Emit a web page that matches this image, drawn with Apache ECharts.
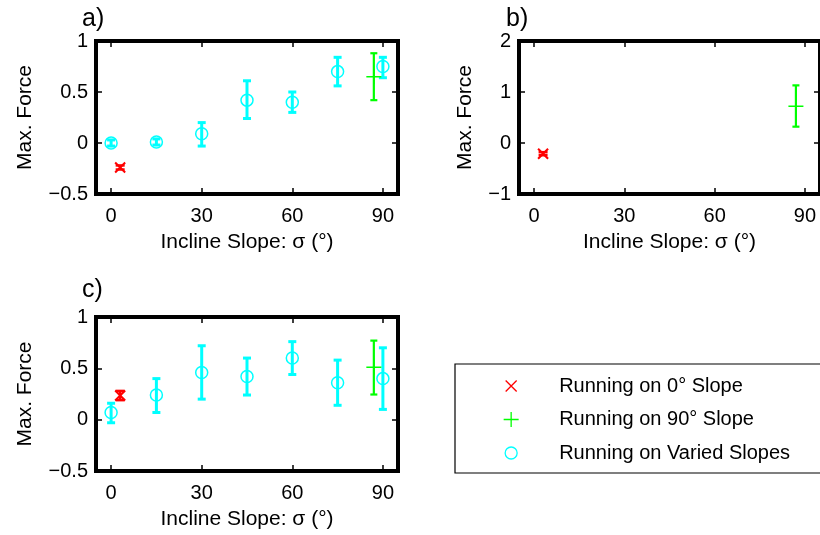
<!DOCTYPE html>
<html>
<head>
<meta charset="utf-8">
<script src="https://cdn.jsdelivr.net/npm/echarts@6/dist/echarts.min.js"></script>
<style>
html,body{margin:0;padding:0;background:#fff;}
#chart{width:820px;height:535px;}
</style>
</head>
<body>
<div id="chart"></div>
<script>
// ---- data ----
const slopes = [0, 15, 30, 45, 60, 75, 90];
const xTicks = [0, 30, 60, 90];
const zeroSlopeX = 3;    // plotted position of 0° slope marker
const ninetySlopeX = 87; // plotted position of 90° slope marker

// panel a
const aVaried = [0.00, 0.01, 0.09, 0.42, 0.40, 0.70, 0.75];
const aVariedLow = [-0.03, -0.02, -0.03, 0.24, 0.30, 0.56, 0.64];
const aVariedHigh = [0.03, 0.04, 0.20, 0.61, 0.50, 0.84, 0.84];
const aZero = [-0.24], aZeroLow = [-0.26], aZeroHigh = [-0.22];
const aNinety = [0.65], aNinetyLow = [0.42], aNinetyHigh = [0.88];

// panel b
const bZero = [-0.21], bZeroLow = [-0.24], bZeroHigh = [-0.18];
const bNinety = [0.72], bNinetyLow = [0.32], bNinetyHigh = [1.13];

// panel c
const cVaried = [0.07, 0.24, 0.46, 0.42, 0.60, 0.36, 0.40];
const cVariedLow = [-0.03, 0.07, 0.20, 0.24, 0.44, 0.14, 0.10];
const cVariedHigh = [0.16, 0.40, 0.72, 0.60, 0.76, 0.58, 0.70];
const cZero = [0.235], cZeroLow = [0.19], cZeroHigh = [0.28];
const cNinety = [0.51], cNinetyLow = [0.245], cNinetyHigh = [0.77];

const panelLetters = ['a)', 'b)', 'c)'];
const names = ['Running on 0° Slope', 'Running on 90° Slope', 'Running on Varied Slopes'];
const yAxisName = 'Max. Force';
const xAxisName = 'Incline Slope: σ (°)';

// ---- styling ----
const FONT = '"Liberation Sans", Arial, Helvetica, sans-serif';
const RED = '#ff0000', GREEN = '#00ff00', CYAN = '#00ffff';
const X_SYMBOL = 'path://M0,0L10,10M10,0L0,10';
const PLUS_SYMBOL = 'path://M0,5L10,5M5,0L5,10';
// legend icons share a 15x15 frame so their relative sizes are kept
const X_ICON = 'path://M0,0M15,15M2,2L13,13M13,2L2,13';
const PLUS_ICON = 'path://M0,0M15,15M0,7.5L15,7.5M7.5,0L7.5,15';
const CIRCLE_ICON = 'path://M0,0M15,15M1.5,7.5A6,6,0,1,1,13.5,7.5A6,6,0,1,1,1.5,7.5Z';

const grids = [
  {left: 96, top: 41, width: 302, height: 153},
  {left: 519, top: 41, width: 301, height: 153},
  {left: 96, top: 317, width: 302, height: 154}
];
const yRanges = [[-0.5, 1, 0.5], [-1, 2, 1], [-0.5, 1, 0.5]];
const yNameGaps = [60, 43, 60];

function fmtY(v) { return v < 0 ? '\u2212' + Math.abs(v) : String(v); }

const tickStyle = {show: true, inside: true, length: 6, lineStyle: {color: '#000', width: 1.5}};
const noLine = {show: false, onZero: false};

const xAxes = [], yAxes = [];
grids.forEach((g, i) => {
  xAxes.push({
    gridIndex: i, type: 'value', min: -5, max: 95, position: 'bottom',
    axisLine: noLine, splitLine: {show: false},
    axisTick: Object.assign({customValues: xTicks}, tickStyle),
    axisLabel: {customValues: xTicks, color: '#000', fontSize: 20, fontFamily: FONT, margin: 12},
    name: xAxisName, nameLocation: 'middle', nameGap: 38,
    nameTextStyle: {color: '#000', fontSize: 21, fontFamily: FONT}
  });
  yAxes.push({
    gridIndex: i, type: 'value', min: yRanges[i][0], max: yRanges[i][1], interval: yRanges[i][2],
    position: 'left',
    axisLine: noLine, splitLine: {show: false},
    axisTick: tickStyle,
    axisLabel: {color: '#000', fontSize: 20, fontFamily: FONT, margin: 8, formatter: fmtY},
    name: yAxisName, nameLocation: 'middle', nameGap: yNameGaps[i], nameRotate: 90,
    nameTextStyle: {color: '#000', fontSize: 21, fontFamily: FONT}
  });
});
grids.forEach((g, i) => {
  xAxes.push({
    gridIndex: i, type: 'value', min: -5, max: 95, position: 'top',
    axisLine: noLine, splitLine: {show: false},
    axisTick: Object.assign({customValues: xTicks}, tickStyle),
    axisLabel: {show: false}
  });
  yAxes.push({
    gridIndex: i, type: 'value', min: yRanges[i][0], max: yRanges[i][1], interval: yRanges[i][2],
    position: 'right',
    axisLine: noLine, splitLine: {show: false},
    axisTick: tickStyle, axisLabel: {show: false}
  });
});

function errorBar(color, width, capHalf) {
  return function (params, api) {
    const x = api.value(0), lo = api.value(1), hi = api.value(2);
    const pLo = api.coord([x, lo]), pHi = api.coord([x, hi]);
    const style = {stroke: color, lineWidth: width};
    return {type: 'group', children: [
      {type: 'line', shape: {x1: pLo[0], y1: pLo[1], x2: pHi[0], y2: pHi[1]}, style: style},
      {type: 'line', shape: {x1: pLo[0] - capHalf, y1: pLo[1], x2: pLo[0] + capHalf, y2: pLo[1]}, style: style},
      {type: 'line', shape: {x1: pHi[0] - capHalf, y1: pHi[1], x2: pHi[0] + capHalf, y2: pHi[1]}, style: style}
    ]};
  };
}

function zip(xs, lo, hi) { return xs.map((x, k) => [x, lo[k], hi[k]]); }
function pts(xs, ys) { return xs.map((x, k) => [x, ys[k]]); }

const series = [];
function addGroup(panel, kind, xs, ys, lo, hi) {
  const cfg = {
    zero: {color: RED, w: 2.5, cap: 4.5, symbol: X_SYMBOL, size: 10, bw: 2, name: names[0]},
    ninety: {color: GREEN, w: 2.2, cap: 3.5, symbol: PLUS_SYMBOL, size: 15, bw: 1.5, name: names[1]},
    varied: {color: CYAN, w: 3, cap: 4, symbol: 'circle', size: 12, bw: 1.5, name: names[2]}
  }[kind];
  series.push({
    type: 'custom', name: cfg.name + ' error ' + panel, xAxisIndex: panel, yAxisIndex: panel,
    renderItem: errorBar(cfg.color, cfg.w, cfg.cap), encode: {x: 0, y: [1, 2]},
    data: zip(xs, lo, hi), z: 2, silent: true
  });
  series.push({
    type: 'scatter', name: cfg.name, xAxisIndex: panel, yAxisIndex: panel,
    symbol: cfg.symbol, symbolSize: cfg.size,
    itemStyle: {color: 'rgba(0,0,0,0)', borderColor: cfg.color, borderWidth: cfg.bw, opacity: 1},
    data: pts(xs, ys), z: 3, silent: true
  });
}

addGroup(0, 'varied', slopes, aVaried, aVariedLow, aVariedHigh);
addGroup(0, 'zero', [zeroSlopeX], aZero, aZeroLow, aZeroHigh);
addGroup(0, 'ninety', [ninetySlopeX], aNinety, aNinetyLow, aNinetyHigh);
addGroup(1, 'zero', [zeroSlopeX], bZero, bZeroLow, bZeroHigh);
addGroup(1, 'ninety', [ninetySlopeX], bNinety, bNinetyLow, bNinetyHigh);
addGroup(2, 'varied', slopes, cVaried, cVariedLow, cVariedHigh);
addGroup(2, 'zero', [zeroSlopeX], cZero, cZeroLow, cZeroHigh);
addGroup(2, 'ninety', [ninetySlopeX], cNinety, cNinetyLow, cNinetyHigh);

const option = {
  animation: false,
  backgroundColor: '#fff',
  title: [
    {text: panelLetters[0], left: 82, top: 7},
    {text: panelLetters[1], left: 506, top: 7},
    {text: panelLetters[2], left: 82, top: 278}
  ].map(t => Object.assign(t, {padding: 0, textStyle: {color: '#000', fontSize: 25, fontWeight: 'normal', fontFamily: FONT}})),
  grid: grids.map(g => Object.assign({show: true, borderColor: '#000', borderWidth: 4, backgroundColor: 'rgba(0,0,0,0)'}, g)),
  xAxis: xAxes,
  yAxis: yAxes,
  legend: {
    orient: 'vertical', left: 455, top: 364,
    padding: [12, 400, 10, 48],
    itemWidth: 86, itemHeight: 15, itemGap: 13.5,
    borderColor: '#000', borderWidth: 1.2, backgroundColor: '#fff',
    selectedMode: false,
    textStyle: {color: '#000', fontSize: 20, fontFamily: FONT},
    data: [
      {name: names[0], icon: X_ICON, itemStyle: {color: 'rgba(0,0,0,0)', borderColor: RED, borderWidth: 1.3}},
      {name: names[1], icon: PLUS_ICON, itemStyle: {color: 'rgba(0,0,0,0)', borderColor: GREEN, borderWidth: 1.3}},
      {name: names[2], icon: CIRCLE_ICON, itemStyle: {color: 'rgba(0,0,0,0)', borderColor: CYAN, borderWidth: 1.3}}
    ]
  },
  series: series
};

const chart = echarts.init(document.getElementById('chart'), null, {renderer: 'canvas'});
chart.setOption(option);
</script>
</body>
</html>
